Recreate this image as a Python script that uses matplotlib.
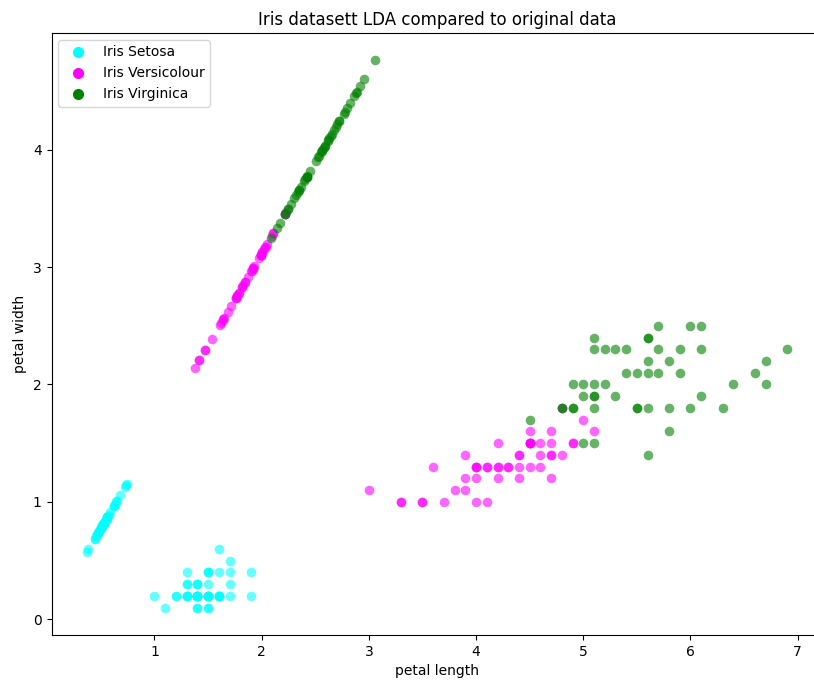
import matplotlib
matplotlib.use("Agg")
import matplotlib.pyplot as plt
from matplotlib.lines import Line2D

# ── Iris petal measurements (length, width) ─────────────────────────────────
setosa_len = [1.4, 1.4, 1.3, 1.5, 1.4, 1.7, 1.4, 1.5, 1.4, 1.5, 1.5, 1.6, 1.4, 1.1, 1.2, 1.5, 1.3,
              1.4, 1.7, 1.5, 1.7, 1.5, 1.0, 1.7, 1.9, 1.6, 1.6, 1.5, 1.4, 1.6, 1.6, 1.5, 1.5, 1.4,
              1.5, 1.2, 1.3, 1.4, 1.3, 1.5, 1.3, 1.3, 1.3, 1.6, 1.9, 1.4, 1.6, 1.4, 1.5, 1.4]
setosa_wid = [0.2, 0.2, 0.2, 0.2, 0.2, 0.4, 0.3, 0.2, 0.2, 0.1, 0.2, 0.2, 0.1, 0.1, 0.2, 0.4, 0.4,
              0.3, 0.3, 0.3, 0.2, 0.4, 0.2, 0.5, 0.2, 0.2, 0.4, 0.2, 0.2, 0.2, 0.2, 0.4, 0.1, 0.2,
              0.2, 0.2, 0.2, 0.1, 0.2, 0.2, 0.3, 0.3, 0.2, 0.6, 0.4, 0.3, 0.2, 0.2, 0.2, 0.2]
versi_len = [4.7, 4.5, 4.9, 4.0, 4.6, 4.5, 4.7, 3.3, 4.6, 3.9, 3.5, 4.2, 4.0, 4.7, 3.6, 4.4, 4.5,
             4.1, 4.5, 3.9, 4.8, 4.0, 4.9, 4.7, 4.3, 4.4, 4.8, 5.0, 4.5, 3.5, 3.8, 3.7, 3.9, 5.1,
             4.5, 4.5, 4.7, 4.4, 4.1, 4.0, 4.4, 4.6, 4.0, 3.3, 4.2, 4.2, 4.2, 4.3, 3.0, 4.1]
versi_wid = [1.4, 1.5, 1.5, 1.3, 1.5, 1.3, 1.6, 1.0, 1.3, 1.4, 1.0, 1.5, 1.0, 1.4, 1.3, 1.4, 1.5,
             1.0, 1.5, 1.1, 1.8, 1.3, 1.5, 1.2, 1.3, 1.4, 1.4, 1.7, 1.5, 1.0, 1.1, 1.0, 1.2, 1.6,
             1.5, 1.6, 1.5, 1.3, 1.3, 1.3, 1.2, 1.4, 1.2, 1.0, 1.3, 1.2, 1.3, 1.3, 1.1, 1.3]
virgi_len = [6.0, 5.1, 5.9, 5.6, 5.8, 6.6, 4.5, 6.3, 5.8, 6.1, 5.1, 5.3, 5.5, 5.0, 5.1, 5.3, 5.5,
             6.7, 6.9, 5.0, 5.7, 4.9, 6.7, 4.9, 5.7, 6.0, 4.8, 4.9, 5.6, 5.8, 6.1, 6.4, 5.6, 5.1,
             5.6, 6.1, 5.6, 5.5, 4.8, 5.4, 5.6, 5.1, 5.1, 5.9, 5.7, 5.2, 5.0, 5.2, 5.4, 5.1]
virgi_wid = [2.5, 1.9, 2.1, 1.8, 2.2, 2.1, 1.7, 1.8, 1.8, 2.5, 2.0, 1.9, 2.1, 2.0, 2.4, 2.3, 1.8,
             2.2, 2.3, 1.5, 2.3, 2.0, 2.0, 1.8, 2.1, 1.8, 1.8, 1.8, 2.1, 1.6, 1.9, 2.0, 2.2, 1.5,
             1.4, 2.3, 2.4, 1.8, 1.8, 2.1, 2.4, 2.3, 1.9, 2.3, 2.5, 2.3, 1.9, 2.0, 2.3, 1.8]

# ── LDA-projected points (on the discriminant line) ─────────────────────────
setosa_lda_x = [0.499, 0.499, 0.470, 0.528, 0.499, 0.677, 0.544, 0.528, 0.499, 0.483, 0.528, 0.557,
                0.454, 0.366, 0.441, 0.619, 0.561, 0.544, 0.632, 0.574, 0.587, 0.619, 0.382, 0.723,
                0.645, 0.557, 0.648, 0.528, 0.499, 0.557, 0.557, 0.619, 0.483, 0.499, 0.528, 0.441,
                0.470, 0.454, 0.470, 0.528, 0.515, 0.515, 0.470, 0.739, 0.736, 0.544, 0.557, 0.499,
                0.528, 0.499]
setosa_lda_y = [0.777, 0.777, 0.732, 0.823, 0.777, 1.055, 0.848, 0.823, 0.777, 0.752, 0.823, 0.868,
                0.707, 0.570, 0.686, 0.964, 0.873, 0.848, 0.984, 0.893, 0.913, 0.964, 0.596, 1.126,
                1.004, 0.868, 1.010, 0.823, 0.777, 0.868, 0.868, 0.964, 0.752, 0.777, 0.823, 0.686,
                0.732, 0.707, 0.732, 0.823, 0.803, 0.803, 0.732, 1.151, 1.146, 0.848, 0.868, 0.777,
                0.823, 0.777]
versi_lda_x = [2.006, 1.993, 2.110, 1.757, 2.023, 1.903, 2.097, 1.416, 1.932, 1.773, 1.475, 1.906,
               1.621, 2.006, 1.640, 1.919, 1.993, 1.650, 1.993, 1.637, 2.217, 1.757, 2.110, 1.915,
               1.844, 1.919, 2.035, 2.230, 1.993, 1.475, 1.608, 1.533, 1.682, 2.214, 1.993, 2.039,
               2.052, 1.873, 1.786, 1.757, 1.828, 1.977, 1.711, 1.416, 1.815, 1.770, 1.815, 1.844,
               1.374, 1.786]
versi_lda_y = [3.125, 3.105, 3.286, 2.736, 3.150, 2.963, 3.266, 2.206, 3.009, 2.761, 2.297, 2.968,
               2.524, 3.125, 2.554, 2.988, 3.105, 2.569, 3.105, 2.549, 3.453, 2.736, 3.286, 2.983,
               2.872, 2.988, 3.170, 3.473, 3.105, 2.297, 2.504, 2.388, 2.620, 3.448, 3.105, 3.175,
               3.195, 2.918, 2.781, 2.736, 2.847, 3.079, 2.665, 2.206, 2.827, 2.756, 2.827, 2.872,
               2.140, 2.781]
virgi_lda_x = [2.885, 2.350, 2.674, 2.450, 2.690, 2.878, 2.084, 2.655, 2.509, 2.914, 2.395, 2.408,
               2.557, 2.366, 2.577, 2.590, 2.421, 2.953, 3.057, 2.139, 2.707, 2.337, 2.862, 2.246,
               2.616, 2.567, 2.217, 2.246, 2.587, 2.418, 2.642, 2.775, 2.632, 2.168, 2.269, 2.823,
               2.723, 2.421, 2.217, 2.528, 2.723, 2.532, 2.350, 2.765, 2.797, 2.561, 2.321, 2.425,
               2.619, 2.305]
virgi_lda_y = [4.493, 3.660, 4.165, 3.816, 4.190, 4.483, 3.246, 4.134, 3.907, 4.538, 3.731, 3.751,
               3.983, 3.685, 4.014, 4.034, 3.771, 4.599, 4.760, 3.332, 4.215, 3.640, 4.457, 3.498,
               4.074, 3.998, 3.453, 3.498, 4.028, 3.766, 4.114, 4.321, 4.099, 3.377, 3.533, 4.397,
               4.241, 3.771, 3.453, 3.938, 4.241, 3.943, 3.660, 4.306, 4.357, 3.988, 3.615, 3.776,
               4.079, 3.589]

names = ['Iris Setosa', 'Iris Versicolour', 'Iris Virginica']
colors = ['cyan', 'magenta', 'green']

orig = [(setosa_len, setosa_wid), (versi_len, versi_wid), (virgi_len, virgi_wid)]
lda = [(setosa_lda_x, setosa_lda_y), (versi_lda_x, versi_lda_y), (virgi_lda_x, virgi_lda_y)]

# ── figure ──────────────────────────────────────────────────────────────────
fig = plt.figure(figsize=(8.14, 6.8), dpi=100)
# the reference is cropped: the right edge of the axes falls just outside the image
ax = fig.add_axes([51.5 / 814, 45 / 680, (822 - 51.5) / 814, (635 - 33) / 680])
ax.spines['right'].set_visible(False)

for (x, y), (lx, ly), c in zip(orig, lda, colors):
    ax.scatter(x, y, s=48, color=c, alpha=0.6, linewidths=0)
    ax.scatter(lx, ly, s=48, color=c, alpha=0.6, linewidths=0)

ax.set_title('Iris datasett LDA compared to original data')
ax.set_xlabel('petal length')
ax.set_ylabel('petal width')

handles = [Line2D([0], [0], marker='o', color='w', markerfacecolor=c,
                  markeredgecolor=c, markersize=7, label=n)
           for n, c in zip(names, colors)]
ax.legend(handles=handles, loc='upper left')

fig.savefig('out.png', dpi=100)
